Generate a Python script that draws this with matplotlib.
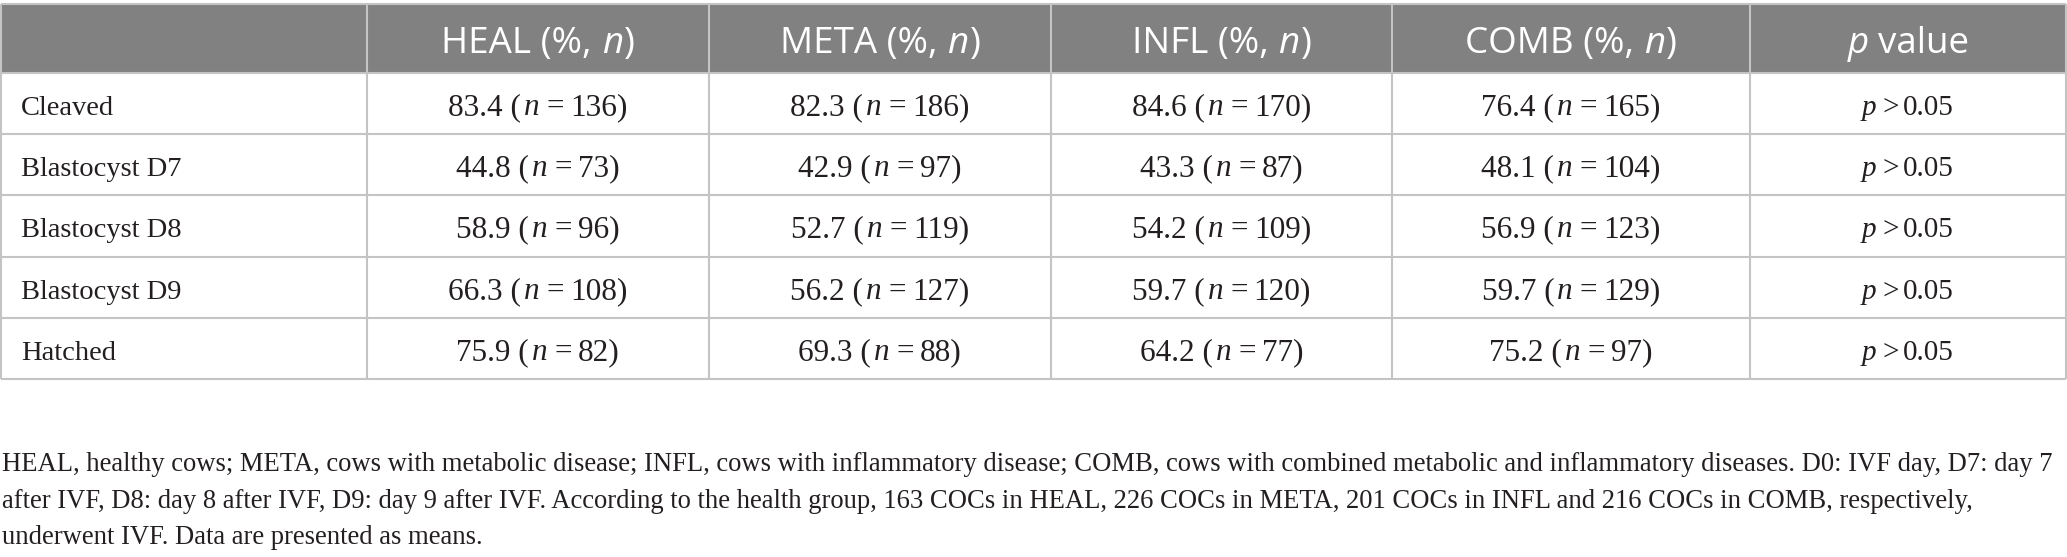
import matplotlib
matplotlib.use('Agg')
import matplotlib.pyplot as plt
from matplotlib.patches import Rectangle

# table content
stages = ['Cleaved', 'Blastocyst D7', 'Blastocyst D8', 'Blastocyst D9', 'Hatched']
groups = ['HEAL', 'META', 'INFL', 'COMB']
heal_pct = [83.4, 44.8, 58.9, 66.3, 75.9]
heal_n = [136, 73, 96, 108, 82]
meta_pct = [82.3, 42.9, 52.7, 56.2, 69.3]
meta_n = [186, 97, 119, 127, 88]
infl_pct = [84.6, 43.3, 54.2, 59.7, 64.2]
infl_n = [170, 87, 109, 120, 77]
comb_pct = [76.4, 48.1, 56.9, 59.7, 75.2]
comb_n = [165, 104, 123, 129, 97]
p_values = ['0.05', '0.05', '0.05', '0.05', '0.05']

footnote = [
    'HEAL, healthy cows; META, cows with metabolic disease; INFL, cows with inflammatory disease; '
    'COMB, cows with combined metabolic and inflammatory diseases. D0: IVF day, D7: day 7',
    'after IVF, D8: day 8 after IVF, D9: day 9 after IVF. According to the health group, 163 COCs in HEAL, '
    '226 COCs in META, 201 COCs in INFL and 216 COCs in COMB, respectively,',
    'underwent IVF. Data are presented as means.',
]

W, H = 2067, 557
fig = plt.figure(figsize=(W / 100, H / 100), dpi=100)
ax = fig.add_axes([0, 0, 1, 1])
ax.set_xlim(0, W)
ax.set_ylim(H, 0)
ax.axis('off')
renderer = fig.canvas.get_renderer()

col_x = [1, 367, 709, 1051, 1392, 1750, 2066]
row_y = [4, 73, 134, 195, 257, 318, 379]
line_col = '#c4c4c4'
text_col = '#231f20'
serif = 'Liberation Serif'
sans = 'Open Sans'


def put_parts(xc, yb, parts, size, family, color, align='center'):
    # parts: (text, italic, gap after in px)
    items = []
    total = 0
    for s, ital, gap in parts:
        t = ax.text(0, yb, s, fontsize=size, family=family,
                    style='italic' if ital else 'normal', color=color,
                    va='baseline', ha='left')
        w = t.get_window_extent(renderer).width
        items.append((t, w, gap))
        total += w + gap
    total -= parts[-1][2]
    x = xc - total / 2 if align == 'center' else xc
    for t, w, gap in items:
        t.set_x(x)
        x += w + gap


# header band
ax.add_patch(Rectangle((col_x[0], row_y[0]), col_x[-1] - col_x[0], row_y[1] - row_y[0],
                       facecolor='#808180', edgecolor='none'))

for y in row_y:
    ax.plot([col_x[0], col_x[-1]], [y, y], color=line_col, lw=1.5, solid_capstyle='butt')
for x in col_x:
    ax.plot([x, x], [row_y[0], row_y[-1]], color=line_col, lw=1.5, solid_capstyle='butt')

centers = [(col_x[i] + col_x[i + 1]) / 2 for i in range(len(col_x) - 1)]

# header texts
hb = 53
for i, g in enumerate(groups):
    put_parts(centers[i + 1], hb, [(g + ' (%,', False, 10), ('n', True, 1), (')', False, 0)],
              26.5, sans, 'white')
put_parts(centers[5], hb, [('p', True, 9), ('value', False, 0)], 26.5, sans, 'white')

# body
pcts = [heal_pct, meta_pct, infl_pct, comb_pct]
ns = [heal_n, meta_n, infl_n, comb_n]
lsize = 20.5
nsize = 22.5
for r, stage in enumerate(stages):
    yb = row_y[r + 1] + 42
    ax.text(21, yb, stage, fontsize=lsize, family=serif, color=text_col, va='baseline', ha='left')
    for c in range(4):
        put_parts(centers[c + 1], yb,
                  [('%.1f (' % pcts[c][r], False, 3), ('n', True, 7), ('=', False, 6),
                   ('%d)' % ns[c][r], False, 0)],
                  nsize, serif, text_col)
    put_parts(centers[5], yb, [('p', True, 6), ('>', False, 4), (p_values[r], False, 0)],
              lsize + 0.5, serif, text_col)

# footnote, sized so the first line fills the width
probe = ax.text(0, 0, footnote[0], fontsize=20, family=serif)
fw = probe.get_window_extent(renderer).width
probe.remove()
fsize = 20 * 2054 / fw
for i, line in enumerate(footnote):
    ax.text(2, 471 + 36.5 * i, line, fontsize=fsize, family=serif, color=text_col,
            va='baseline', ha='left')

fig.savefig('out.png', dpi=100, facecolor='white')
